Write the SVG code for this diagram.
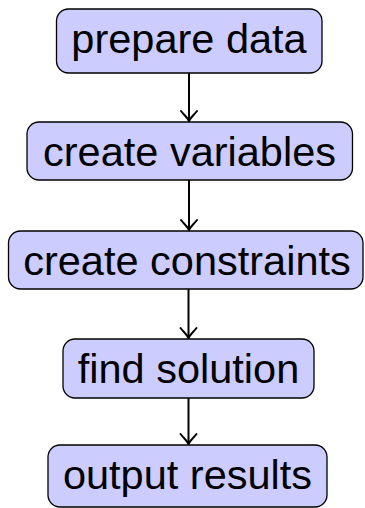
<svg xmlns="http://www.w3.org/2000/svg" width="365" height="508" viewBox="0 0 365 508">
  <style>
    .box { fill: #ccccff; stroke: #000; stroke-width: 1.3; }
    .lbl { font-family: "Liberation Sans", Arial, sans-serif; font-size: 41.5px; fill: #000; text-anchor: middle; }
    .edge { fill: none; stroke: #000; stroke-width: 2; }
    .head { fill: none; stroke: #000; stroke-width: 2; stroke-linecap: round; }
  </style>

  <!-- connectors: vertical shafts with open "to" arrowheads -->
  <g id="connectors">
    <line class="edge" x1="189" y1="73" x2="189" y2="121"/>
    <line class="edge" x1="189" y1="180" x2="189" y2="230"/>
    <line class="edge" x1="188.5" y1="289" x2="188.5" y2="338"/>
    <line class="edge" x1="188.5" y1="398" x2="188.5" y2="444"/>
    <path class="head" d="M181,111 C184,115 187,117 189,121 C191,117 194,115 197,111"/>
    <path class="head" d="M181,220 C184,224 187,226 189,230 C191,226 194,224 197,220"/>
    <path class="head" d="M180.5,328 C183.5,332 186.5,334 188.5,338 C190.5,334 193.5,332 196.5,328"/>
    <path class="head" d="M180.5,434 C183.5,438 186.5,440 188.5,444 C190.5,440 193.5,438 196.5,434"/>
  </g>

  <g id="prepare-data">
    <rect class="box" x="56.5" y="9" width="265.5" height="64" rx="12"/>
    <text class="lbl" x="189" y="53">prepare data</text>
  </g>
  <g id="create-variables">
    <rect class="box" x="27" y="122" width="325.5" height="58" rx="12"/>
    <text class="lbl" x="189.5" y="166">create variables</text>
  </g>
  <g id="create-constraints">
    <rect class="box" x="8.5" y="231" width="354.5" height="58" rx="12"/>
    <text class="lbl" x="187" y="275">create constraints</text>
  </g>
  <g id="find-solution">
    <rect class="box" x="63" y="339" width="251" height="59" rx="12"/>
    <text class="lbl" x="188.5" y="383">find solution</text>
  </g>
  <g id="output-results">
    <rect class="box" x="48" y="445" width="279" height="62" rx="12"/>
    <text class="lbl" x="187.5" y="489">output results</text>
  </g>
</svg>
